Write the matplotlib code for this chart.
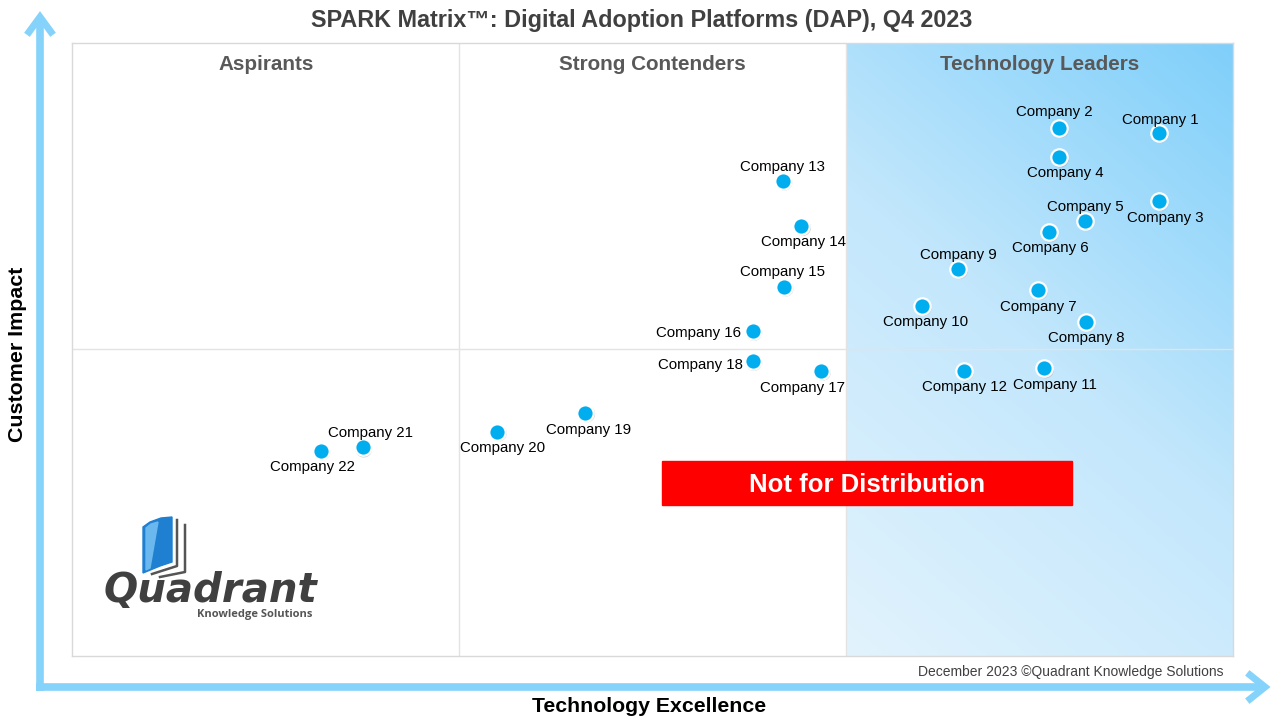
import numpy as np
import matplotlib.pyplot as plt
from matplotlib.patches import Rectangle, Polygon
from matplotlib.colors import LinearSegmentedColormap
import matplotlib.transforms as mtransforms

plt.rcParams['font.family'] = ['Liberation Sans', 'DejaVu Sans']

# Vendor positions (technology excellence, customer impact)
companies = ['Company 1', 'Company 2', 'Company 3', 'Company 4', 'Company 5',
             'Company 6', 'Company 7', 'Company 8', 'Company 9', 'Company 10',
             'Company 11', 'Company 12', 'Company 13', 'Company 14', 'Company 15',
             'Company 16', 'Company 17', 'Company 18', 'Company 19', 'Company 20',
             'Company 21', 'Company 22']
tech_excellence = [93.6, 85.0, 93.6, 85.0, 87.2, 84.1, 83.2, 87.3, 76.3, 73.2,
                   83.7, 76.8, 61.2, 62.8, 61.3, 58.6, 64.5, 58.6, 44.2, 36.6,
                   25.0, 21.4]
customer_impact = [85.3, 86.1, 74.2, 81.3, 71.0, 69.1, 59.7, 54.5, 63.1, 57.1,
                   46.9, 46.5, 77.5, 70.1, 60.2, 53.0, 46.5, 48.1, 39.7, 36.6,
                   34.0, 33.5]
quadrant_names = ['Aspirants', 'Strong Contenders', 'Technology Leaders']

# label offsets in pixels (dx, dy, ha)
label_offsets = {
    'Company 1': (1, 15, 'center'), 'Company 2': (-5, 18, 'center'),
    'Company 3': (6, -15, 'center'), 'Company 4': (6, -14, 'center'),
    'Company 5': (1, 16, 'center'), 'Company 6': (2, -14, 'center'),
    'Company 7': (0, -15, 'center'), 'Company 8': (0, -14, 'center'),
    'Company 9': (0, 16, 'center'), 'Company 10': (3, -14, 'center'),
    'Company 11': (11, -15, 'center'), 'Company 12': (1, -14, 'center'),
    'Company 13': (0, 16, 'center'), 'Company 14': (2, -14, 'center'),
    'Company 15': (-1, 17, 'center'), 'Company 16': (-12, 0, 'right'),
    'Company 17': (-19, -15, 'center'), 'Company 18': (-10, -2, 'right'),
    'Company 19': (3, -15, 'center'), 'Company 20': (5, -14, 'center'),
    'Company 21': (8, 16, 'center'), 'Company 22': (-8, -14, 'center'),
}

fig = plt.figure(figsize=(12.8, 7.2), dpi=100)
ax = fig.add_axes([72.3 / 1280, 64 / 720, 1161 / 1280, 613.3 / 720])
ax.set_xlim(0, 100)
ax.set_ylim(0, 100)
ax.set_xticks([])
ax.set_yticks([])
for s in ax.spines.values():
    s.set_color('#d9d9d9')
    s.set_linewidth(1)

# gradient for the leaders column
u, v = np.meshgrid(np.linspace(0, 1, 200), np.linspace(0, 1, 300))
grad = 0.35 * u + 0.65 * v
cmap = LinearSegmentedColormap.from_list('lead', ['#e2f3fd', '#c3e7fc', '#7fcffa'])
ax.imshow(grad, extent=[100 * 2 / 3, 100, 0, 100], origin='lower', cmap=cmap,
          aspect='auto', zorder=0, vmin=0, vmax=1)

ax.axvline(100 / 3, color='#e3e3e3', lw=1, zorder=1)
ax.axvline(200 / 3, color='#e3e3e3', lw=1, zorder=1)
ax.axhline(50, color='#e3e3e3', lw=1, zorder=1)

for i, name in enumerate(quadrant_names):
    ax.text((i + 0.5) / 3, 0.964, name, transform=ax.transAxes, ha='center',
            va='center', fontsize=14.9, fontweight='bold', color='#595959')

# markers with a small shadow
shadow = mtransforms.offset_copy(ax.transData, fig=fig, x=1.2, y=-1.5, units='dots')
ax.scatter(tech_excellence, customer_impact, s=150, color='#9a9a9a', alpha=0.5,
           edgecolors='none', transform=shadow, zorder=3)
ax.scatter(tech_excellence, customer_impact, s=140, color='#00aeef',
           edgecolors='white', linewidths=1.6, zorder=4)

for name, x, y in zip(companies, tech_excellence, customer_impact):
    dx, dy, ha = label_offsets[name]
    ax.annotate(name, (x, y), xytext=(dx, dy - 2), textcoords='offset pixels',
                ha=ha, va='center', fontsize=10.8, color='black', zorder=5)

# overlay in pixel coordinates for arrows, logo, watermark
ov = fig.add_axes([0, 0, 1, 1])
ov.set_xlim(0, 1280)
ov.set_ylim(720, 0)
ov.axis('off')
ov.patch.set_alpha(0)

arrow_c = '#85d3fb'
ov.plot([40, 40], [691, 18], color=arrow_c, lw=5.5, solid_capstyle='butt')
ov.plot([29, 40, 51], [32, 17, 32], color=arrow_c, lw=5, solid_joinstyle='miter')
ov.plot([36, 1264], [687, 687], color=arrow_c, lw=5.5, solid_capstyle='butt')
ov.plot([1250, 1265, 1250], [675, 687, 699], color=arrow_c, lw=5, solid_joinstyle='miter')

ov.add_patch(Rectangle((662, 461), 410, 44, color='#ff0000', zorder=6))
ov.text(867, 485, 'Not for Distribution', ha='center', va='center', color='white',
        fontsize=18.5, fontweight='bold', zorder=7)

# logo
ov.add_patch(Polygon([(143, 527), (150, 522), (161, 518), (172, 517), (172, 562),
                      (160, 566), (143, 573)], closed=True, color='#1f7fd0', zorder=6))
ov.add_patch(Polygon([(146, 528), (151, 524), (158, 522), (150, 568), (146, 570)],
                     closed=True, color='#6ab8ee', zorder=7))
ov.plot([177, 177, 152], [520, 566, 574], color='#555555', lw=1.8, zorder=6)
ov.plot([185, 185, 160], [525, 572, 577], color='#555555', lw=1.8, zorder=6)
ov.text(210, 602, 'Quadrant', ha='center', va='baseline', fontsize=29,
        fontweight='bold', fontstyle='italic', color='#404040',
        family=['DejaVu Sans'], zorder=7)
ov.text(255, 615, 'Knowledge Solutions', ha='center', va='center', fontsize=8,
        fontweight='bold', color='#555555', family=['Open Sans', 'DejaVu Sans'], zorder=7)

fig.text(642 / 1280, 1 - 21 / 720,
         'SPARK Matrix\u2122: Digital Adoption Platforms (DAP), Q4 2023',
         ha='center', va='center', fontsize=16.8, fontweight='bold', color='#404040')
fig.text(18 / 1280, 1 - 354 / 720, 'Customer Impact', rotation=90, ha='center',
         va='center', fontsize=15.4, fontweight='bold', color='black')
fig.text(649 / 1280, 1 - 706 / 720, 'Technology Excellence', ha='center',
         va='center', fontsize=15.3, fontweight='bold', color='black')
fig.text(1224 / 1280, 1 - 672 / 720, 'December 2023 \u00a9Quadrant Knowledge Solutions',
         ha='right', va='center', fontsize=10, color='#404040')

fig.savefig('out.png', dpi=100)
